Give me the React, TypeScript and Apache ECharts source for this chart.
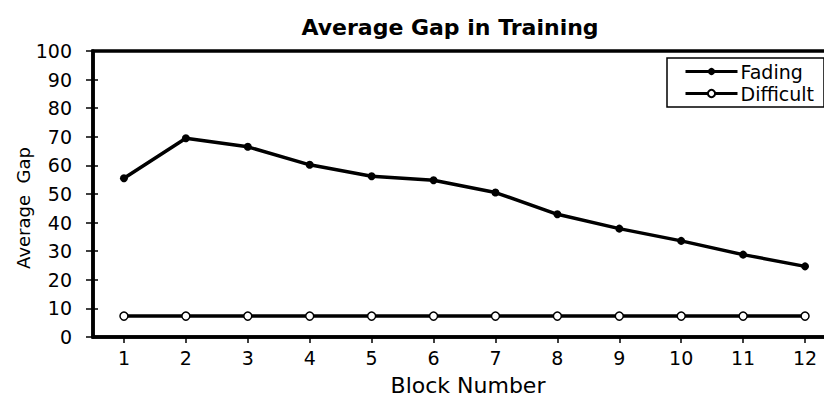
import React, { useEffect, useRef } from 'react';
import * as echarts from 'echarts';

const blocks = ['1', '2', '3', '4', '5', '6', '7', '8', '9', '10', '11', '12'];
const fadingGap = [55.5, 69.5, 66.5, 60.2, 56.2, 54.8, 50.5, 42.9, 37.9, 33.6, 28.8, 24.7];
const difficultGap = [7.3, 7.3, 7.3, 7.3, 7.3, 7.3, 7.3, 7.3, 7.3, 7.3, 7.3, 7.3];
const titleText = 'Average Gap in Training';
const xName = 'Block Number';
const yName = 'Average  Gap';

const FONT = '"DejaVu Sans", "Liberation Sans", Arial, sans-serif';

export default function App() {
  const ref = useRef<HTMLDivElement>(null);
  useEffect(() => {
    const chart = echarts.init(ref.current!, undefined, { renderer: 'svg' });
    chart.setOption({
      animation: false,
      backgroundColor: '#fff',
      grid: {
        left: 93,
        top: 51,
        bottom: 66,
        right: 0,
        show: true,
        borderColor: '#000',
        borderWidth: 3.5,
        containLabel: false,
      },
      legend: {
        left: 667,
        top: 58,
        orient: 'vertical',
        backgroundColor: '#fff',
        borderColor: '#000',
        borderWidth: 1.5,
        borderRadius: 0,
        padding: [4, 10, 4, 17],
        itemWidth: 52,
        itemHeight: 9,
        itemGap: 3,
        lineStyle: { width: 3 },
        textStyle: { fontFamily: FONT, fontSize: 19, color: '#000', padding: [0, 0, 0, -2] },
        data: ['Fading', 'Difficult'],
      },
      xAxis: {
        type: 'category',
        data: blocks,
        boundaryGap: true,
        axisLine: { show: true, lineStyle: { color: '#000', width: 3.5 } },
        axisTick: { show: true, alignWithLabel: true, length: 6, lineStyle: { color: '#000', width: 1.5 } },
        axisLabel: { fontFamily: FONT, fontSize: 19, color: '#000', margin: 11 },
        splitLine: { show: false },
      },
      yAxis: [
        {
          type: 'value',
          min: 0,
          max: 100,
          interval: 10,
          axisLine: { show: true, lineStyle: { color: '#000', width: 3.5 } },
          axisTick: { show: true, length: 7, lineStyle: { color: '#000', width: 1.5 } },
          axisLabel: { fontFamily: FONT, fontSize: 19, color: '#000', margin: 21 },
          splitLine: { show: false },
        },
        {
          type: 'value',
          position: 'left',
          min: 0,
          max: 100,
          interval: 10,
          axisLine: { show: false },
          axisTick: { show: true, inside: true, length: 5, lineStyle: { color: '#000', width: 1.5 } },
          axisLabel: { show: false },
          splitLine: { show: false },
        },
      ],
      graphic: [
        {
          type: 'text',
          x: 450,
          y: 27,
          style: {
            text: titleText,
            fontFamily: FONT,
            fontSize: 22,
            fontWeight: 'bold',
            fill: '#000',
            align: 'center',
            verticalAlign: 'middle',
          },
        },
        {
          type: 'text',
          x: 468,
          y: 385,
          style: {
            text: xName,
            fontFamily: FONT,
            fontSize: 22,
            fill: '#000',
            align: 'center',
            verticalAlign: 'middle',
          },
        },
        {
          type: 'text',
          x: 23,
          y: 208,
          rotation: Math.PI / 2,
          style: {
            text: yName,
            fontFamily: FONT,
            fontSize: 18,
            fill: '#000',
            align: 'center',
            verticalAlign: 'middle',
          },
        },
      ],
      series: [
        {
          name: 'Fading',
          type: 'line',
          data: fadingGap,
          symbol: 'circle',
          symbolSize: 8,
          lineStyle: { color: '#000', width: 3.5 },
          itemStyle: { color: '#000' },
          z: 4,
        },
        {
          name: 'Difficult',
          type: 'line',
          data: difficultGap,
          symbol: 'circle',
          symbolSize: 8,
          lineStyle: { color: '#000', width: 3.5 },
          itemStyle: { color: '#fff', borderColor: '#000', borderWidth: 1.5 },
          z: 3,
        },
      ],
    });
    return () => chart.dispose();
  }, []);
  return (
    <div
      style={{ position: 'fixed', left: 0, top: 0, width: 824, height: 403, overflow: 'hidden', background: '#fff' }}
    >
      <div ref={ref} style={{ width: 836, height: 403 }} />
    </div>
  );
}
